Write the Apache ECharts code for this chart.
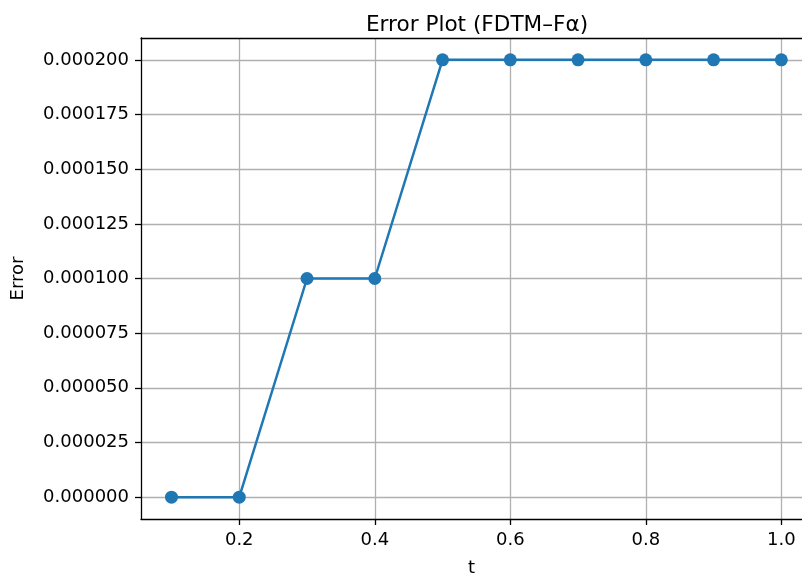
<!DOCTYPE html>
<html>
<head>
<meta charset="utf-8">
<script src="https://cdn.jsdelivr.net/npm/echarts@6/dist/echarts.min.js"></script>
<style>
  html, body { margin: 0; padding: 0; background: #fff; }
  #chart { width: 802px; height: 573px; }
</style>
</head>
<body>
<div id="chart"></div>
<script>
// data
const tValues = [0.1, 0.2, 0.3, 0.4, 0.5, 0.6, 0.7, 0.8, 0.9, 1.0];
const errorValues = [0, 0, 0.0001, 0.0001, 0.0002, 0.0002, 0.0002, 0.0002, 0.0002, 0.0002];
const xTicks = [0.2, 0.4, 0.6, 0.8, 1.0];
const yTicks = [0, 0.000025, 0.00005, 0.000075, 0.0001, 0.000125, 0.00015, 0.000175, 0.0002];

const font = 'DejaVu Sans';
const gridColor = '#b0b0b0';
const xMin = 0.055, xMax = 1.0305; // right spine sits just past the canvas edge

const chart = echarts.init(document.getElementById('chart'), null, { renderer: 'canvas' });

chart.setOption({
  animation: false,
  backgroundColor: '#fff',
  title: {
    text: 'Error Plot (FDTM–Fα)',
    left: 472,
    top: 9,
    textAlign: 'center',
    textStyle: { fontFamily: font, fontSize: 21.6, fontWeight: 'normal', color: '#000' }
  },
  grid: {
    left: 141,
    right: 0,
    top: 38,
    bottom: 54,
    outerBoundsMode: 'none'
  },
  xAxis: [{
    type: 'value',
    min: xMin,
    max: xMax,
    name: 't',
    nameLocation: 'middle',
    nameGap: 40,
    nameTextStyle: { fontFamily: font, fontSize: 18, color: '#000' },
    axisLine: { show: true, onZero: false, lineStyle: { color: '#000', width: 1.3 } },
    axisTick: { show: true, length: 6, customValues: xTicks, lineStyle: { color: '#000', width: 1.3 } },
    axisLabel: {
      customValues: xTicks,
      margin: 12,
      fontFamily: font,
      fontSize: 18,
      color: '#000',
      formatter: v => v.toFixed(1)
    },
    splitLine: { show: true, customValues: xTicks, lineStyle: { color: gridColor, width: 1.3 } }
  }, {
    // top spine only
    type: 'value',
    position: 'top',
    min: xMin,
    max: xMax,
    axisLine: { show: true, onZero: false, lineStyle: { color: '#000', width: 1.3 } },
    axisTick: { show: false },
    axisLabel: { show: false },
    splitLine: { show: false }
  }],
  yAxis: {
    type: 'value',
    min: -0.00001,
    max: 0.00021,
    name: 'Error',
    nameLocation: 'middle',
    nameGap: 114,
    nameTextStyle: { fontFamily: font, fontSize: 18, color: '#000' },
    axisLine: { show: true, onZero: false, lineStyle: { color: '#000', width: 1.3 } },
    axisTick: { show: true, length: 6, customValues: yTicks, lineStyle: { color: '#000', width: 1.3 } },
    axisLabel: {
      customValues: yTicks,
      margin: 12,
      fontFamily: font,
      fontSize: 18,
      color: '#000',
      formatter: v => v.toFixed(6)
    },
    splitLine: { show: true, customValues: yTicks, lineStyle: { color: gridColor, width: 1.3 } }
  },
  series: [{
    type: 'line',
    xAxisIndex: 0,
    data: tValues.map((t, i) => [t, errorValues[i]]),
    symbol: 'circle',
    symbolSize: 13,
    lineStyle: { color: '#1f77b4', width: 2.5 },
    itemStyle: { color: '#1f77b4' }
  }]
});
</script>
</body>
</html>
